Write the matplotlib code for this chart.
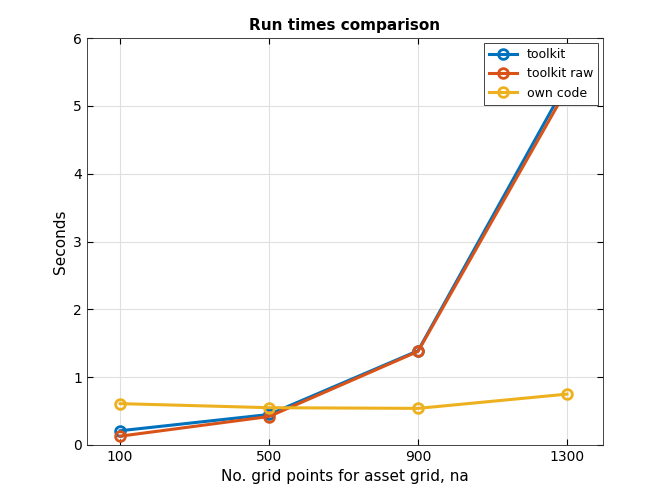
import matplotlib
matplotlib.use("Agg")
import matplotlib.pyplot as plt

na = [100, 500, 900, 1300]
toolkit = [0.21, 0.45, 1.39, 5.35]
toolkit_raw = [0.13, 0.42, 1.38, 5.25]
own_code = [0.61, 0.55, 0.54, 0.75]
xticks = [100, 500, 900, 1300]

plt.rcParams["font.family"] = "DejaVu Sans"
fig = plt.figure(figsize=(6.66, 5), dpi=100)
ax = fig.add_axes([0.1306, 0.11, 0.775, 0.814])
kw = dict(lw=2.2, marker="o", ms=7, mfc="none", mew=2)
ax.plot(na, toolkit, color="#0072BD", label="toolkit", **kw)
ax.plot(na, toolkit_raw, color="#D95319", label="toolkit raw", **kw)
ax.plot(na, own_code, color="#EDB120", label="own code", **kw)
ax.set_xlim(11, 1397)
ax.set_ylim(0, 6)
ax.set_xticks(xticks)
ax.set_xticklabels([str(v) for v in xticks])
ax.set_yticks(range(7))
ax.grid(True, color="#dfdfdf", lw=0.8)
ax.set_axisbelow(True)
ax.tick_params(direction="in", labelsize=10, top=True, right=True, length=4)
for s in ax.spines.values():
    s.set_color("#262626"); s.set_linewidth(0.6)
ax.set_xlabel("No. grid points for asset grid, na", fontsize=11)
ax.set_ylabel("Seconds", fontsize=11)
ax.set_title("Run times comparison", fontsize=11, fontweight="bold")
leg = ax.legend(loc="upper right", fontsize=9, fancybox=False, framealpha=1,
                edgecolor="#262626", borderaxespad=0.4, handlelength=2.2)
leg.get_frame().set_linewidth(0.6)
fig.savefig("out.png", dpi=100)
